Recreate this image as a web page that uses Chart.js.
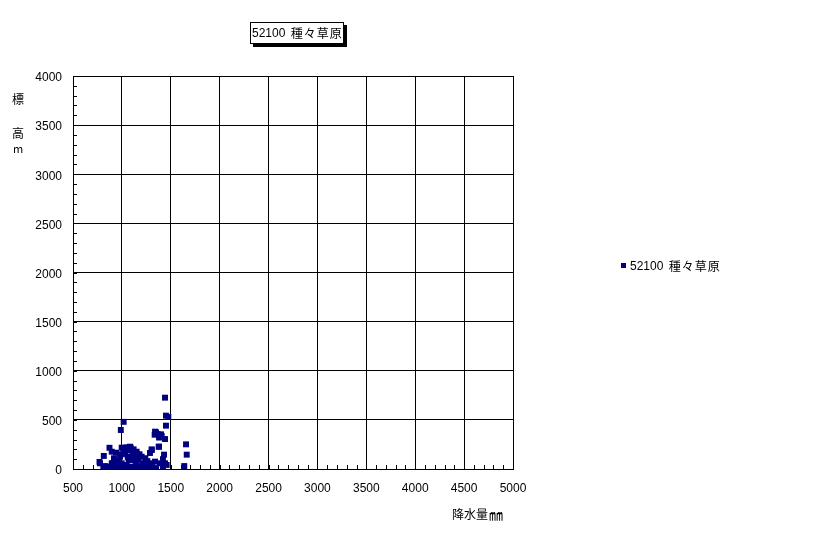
<!DOCTYPE html>
<html>
<head>
<meta charset="utf-8">
<script src="https://cdn.jsdelivr.net/npm/chart.js@4"></script>
<style>
  html, body { margin: 0; padding: 0; background: #fff; }
</style>
</head>
<body>
<canvas id="myChart" width="816" height="534"></canvas>
<script>
// data
const seriesName = '52100 種々草原';
const xTitle = '降水量';
const xUnit = '㎜';
const yTitle = ['標', '高', 'm'];

// 降水量 (mm)
const rainfall = [
  1441, 1451, 1475, 1451, 1349, 1335, 1400, 1380, 1441, 1376,
  1305, 1287, 1431, 1018, 989, 873, 815, 771, 1656, 1663,
  1638, 1366, 1407, 1339, 896, 940, 998, 1048, 1090, 1110,
  919, 981, 1032, 1076, 1124, 810, 861, 896, 947, 998,
  1049, 1100, 776, 1151, 1202, 1168, 1219, 1253, 1305, 1339,
  1390, 1441, 1458, 1151, 1202, 1014, 1083, 1305, 1380, 1020,
  1060, 1130, 960, 1000, 1050, 880, 930, 1180, 1240, 1280,
  1350, 1420, 1000, 1070, 1140, 1260, 830, 1180, 1120, 1060,
  960, 1230, 1420, 1310, 910
];
// 標高 (m)
const elevation = [
  726, 543, 530, 441, 373, 349, 353, 320, 305, 227,
  193, 163, 146, 480, 397, 216, 133, 72, 251, 146,
  30, 356, 336, 380, 176, 166, 217, 221, 217, 176,
  109, 125, 160, 125, 92, 7, 23, 58, 41, 58,
  41, 23, 58, 176, 125, 92, 58, 41, 58, 75,
  58, 58, 41, 7, 7, 211, 227, 200, 227, 200,
  190, 150, 80, 10, 5, 5, 20, 30, 110, 20,
  10, 20, 150, 90, 60, 80, 30, 150, 200, 120,
  30, 20, 100, 15, 60
];

const xMin = 500, xMax = 5000, xStep = 500;
const yMin = 0, yMax = 4000, yStep = 500;
const minorStep = 100;

const points = rainfall.map((x, i) => ({ x: x, y: elevation[i] }));

const NAVY = '#000080';
const FONT = '"Liberation Sans", "Noto Sans CJK JP", sans-serif';
const CJK = '"Noto Sans CJK JP", "Liberation Sans", sans-serif';

// minor ticks (every 100) drawn inside the plot area
const minorTicks = {
  id: 'minorTicks',
  beforeDatasetsDraw(chart) {
    const ctx = chart.ctx;
    const xs = chart.scales.x, ys = chart.scales.y;
    const a = chart.chartArea;
    ctx.save();
    ctx.strokeStyle = '#000';
    ctx.lineWidth = 1;
    ctx.beginPath();
    for (let v = xMin; v <= xMax; v += minorStep) {
      const px = Math.round(xs.getPixelForValue(v)) + 0.5;
      ctx.moveTo(px, a.bottom);
      ctx.lineTo(px, a.bottom - 4);
    }
    for (let v = yMin; v <= yMax; v += minorStep) {
      const py = Math.round(ys.getPixelForValue(v)) + 0.5;
      ctx.moveTo(a.left, py);
      ctx.lineTo(a.left + 4, py);
    }
    ctx.stroke();
    ctx.restore();
  }
};

// draws the name with a little gap between the characters like the original
function drawName(ctx, x, y) {
  ctx.textAlign = 'left';
  ctx.font = '12px ' + FONT;
  const num = seriesName.split(' ')[0];
  ctx.fillText(num, x, y);
  let cx = x + ctx.measureText(num + ' ').width + 2;
  ctx.font = '12px ' + CJK;
  for (const ch of seriesName.split(' ')[1]) {
    ctx.fillText(ch, cx, y);
    cx += ctx.measureText(ch).width + 1;
  }
  return cx;
}

// title box, legend and axis titles
const decorations = {
  id: 'decorations',
  afterDraw(chart) {
    const ctx = chart.ctx;
    ctx.save();
    // title box with shadow
    ctx.fillStyle = '#000';
    ctx.fillRect(253, 25, 94, 22);
    ctx.fillStyle = '#fff';
    ctx.fillRect(250, 22, 94, 22);
    ctx.strokeStyle = '#000';
    ctx.lineWidth = 1;
    ctx.strokeRect(250.5, 22.5, 93, 21);
    ctx.fillStyle = '#000';
    ctx.textBaseline = 'middle';
    drawName(ctx, 252, 33.5);

    // legend
    ctx.fillStyle = NAVY;
    ctx.fillRect(621, 263, 5, 5);
    ctx.fillStyle = '#000';
    drawName(ctx, 630, 266.5);

    // y title, stacked
    ctx.textAlign = 'center';
    ctx.font = '12px ' + CJK;
    ctx.fillText(yTitle[0], 18, 99);
    ctx.fillText(yTitle[1], 18, 133);
    ctx.font = '11px ' + CJK;
    ctx.fillText(yTitle[2], 18, 149);

    // x title
    ctx.font = '12px ' + CJK;
    ctx.textAlign = 'left';
    ctx.fillText(xTitle, 452, 514);
    const w = ctx.measureText(xTitle).width;
    ctx.font = '14px ' + CJK;
    ctx.fillText(xUnit, 452 + w + 1, 515);
    ctx.restore();
  }
};

const config = {
  type: 'scatter',
  data: {
    datasets: [{
      label: seriesName,
      data: points,
      backgroundColor: NAVY,
      borderColor: NAVY,
      borderWidth: 0,
      pointStyle: 'rect',
      pointRadius: 4.2,
      pointHoverRadius: 4.2
    }]
  },
  options: {
    responsive: false,
    devicePixelRatio: 1,
    animation: false,
    layout: { padding: { left: 0, top: 76, right: 303, bottom: 0 } },
    plugins: {
      legend: { display: false },
      title: { display: false },
      tooltip: { enabled: false }
    },
    scales: {
      x: {
        type: 'linear',
        min: xMin,
        max: xMax,
        ticks: { stepSize: xStep, color: '#000', padding: 12, maxRotation: 0,
                 font: { family: FONT, size: 12 }, callback: v => String(v) },
        grid: { color: '#000', lineWidth: 1, drawTicks: false },
        border: { color: '#000', width: 1 },
        afterFit: s => { s.height = 65; }
      },
      y: {
        type: 'linear',
        min: yMin,
        max: yMax,
        ticks: { stepSize: yStep, color: '#000', padding: 11, labelOffset: 2,
                 font: { family: FONT, size: 12 }, callback: v => String(v) },
        grid: { color: '#000', lineWidth: 1, drawTicks: false },
        border: { color: '#000', width: 1 },
        afterFit: s => { s.width = 73; }
      }
    }
  },
  plugins: [minorTicks, decorations]
};

const myChart = new Chart(document.getElementById('myChart'), config);
</script>
</body>
</html>
